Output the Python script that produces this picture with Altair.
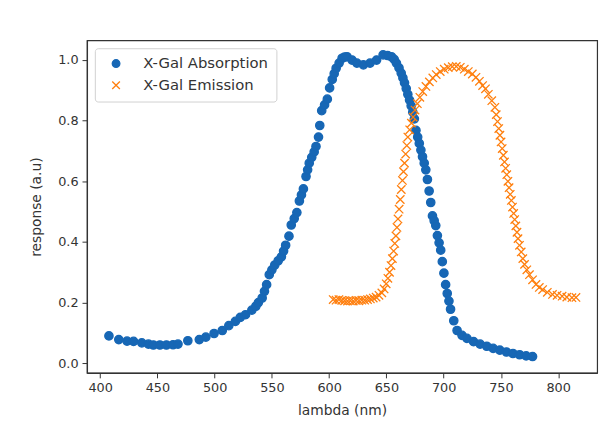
import altair as alt
import pandas as pd

abs_nm = [407.7, 416.3, 423.5, 429.2, 436.4, 442.2, 446.5, 452.2, 457.9, 463.7, 468.0,
          476.6, 486.6, 492.3, 499.5, 506.7, 512.4, 518.1, 522.4, 527.0, 532.5, 536.0,
          538.2, 541.5, 543.5, 545.4, 547.7, 550.0, 552.5, 555.5, 558.3, 560.2, 562.0,
          564.9, 566.9, 569.5, 571.8, 574.0, 575.8, 577.5, 579.8, 581.2, 582.6, 584.8,
          586.9, 588.5, 590.7, 591.8, 593.5, 596.0, 598.4, 600.4, 602.7, 604.4, 606.1,
          608.7, 611.3, 613.5, 615.6, 620.0, 624.2, 629.9, 635.7, 641.4, 647.1, 651.0,
          654.4, 656.8, 658.7, 661.0, 662.9, 664.4, 665.8, 667.3, 668.7, 670.2, 671.6,
          673.0, 674.4, 675.8, 677.3, 678.7, 680.1, 681.5, 683.0, 684.4, 685.8, 687.3,
          688.7, 690.2, 691.7, 693.1, 694.5, 696.0, 697.4, 698.8, 700.2, 701.7, 703.1,
          704.6, 706.0, 708.8, 711.7, 716.0, 720.3, 726.1, 731.8, 737.6, 743.2, 749.0,
          754.8, 760.5, 766.3, 772.0, 777.6]
abs_val = [0.090, 0.078, 0.073, 0.072, 0.067, 0.063, 0.060, 0.060, 0.060, 0.061, 0.063,
           0.074, 0.078, 0.086, 0.098, 0.108, 0.124, 0.138, 0.151, 0.160, 0.175, 0.188,
           0.200, 0.215, 0.237, 0.259, 0.292, 0.308, 0.324, 0.338, 0.351, 0.370, 0.389,
           0.419, 0.456, 0.477, 0.497, 0.535, 0.555, 0.575, 0.616, 0.638, 0.660, 0.679,
           0.697, 0.715, 0.746, 0.784, 0.833, 0.852, 0.871, 0.908, 0.936, 0.955, 0.973,
           0.990, 1.006, 1.010, 1.011, 1.000, 0.990, 0.984, 0.990, 1.000, 1.017, 1.015,
           1.011, 1.002, 0.990, 0.974, 0.957, 0.941, 0.925, 0.906, 0.887, 0.868, 0.849,
           0.828, 0.806, 0.768, 0.746, 0.725, 0.703, 0.681, 0.660, 0.638, 0.606, 0.568,
           0.530, 0.486, 0.470, 0.454, 0.421, 0.397, 0.373, 0.335, 0.297, 0.259, 0.230,
           0.205, 0.178, 0.140, 0.108, 0.092, 0.082, 0.071, 0.063, 0.056, 0.049, 0.043,
           0.037, 0.032, 0.028, 0.024, 0.022]

em_nm = [603.5, 606.0, 608.5, 611.0, 613.5, 616.0, 618.5, 621.0, 623.5, 626.0, 628.5,
         631.0, 633.5, 636.0, 638.5, 641.0, 643.5, 646.0, 648.0, 649.8, 651.3, 652.7,
         654.0, 655.2, 656.3, 657.3, 658.3, 659.2, 660.1, 661.1, 662.1, 663.0, 664.0,
         664.9, 665.8, 666.8, 667.8, 668.7, 670.3, 671.8, 673.3, 675.0, 677.0, 679.2,
         681.7, 684.5, 687.5, 690.5, 693.5, 697.0, 700.5, 704.0, 707.5, 711.0, 714.5,
         718.0, 721.5, 725.0, 728.2, 731.2, 734.0, 736.5, 739.0, 742.0, 744.7, 745.9,
         747.0, 748.1, 749.1, 750.1, 751.1, 752.1, 753.1, 754.1, 755.1, 756.1, 757.1,
         758.1, 759.1, 760.1, 761.1, 762.0, 763.0, 764.0, 764.9, 766.2, 767.7, 769.1,
         770.6, 772.6, 774.9, 777.6, 780.6, 783.5, 786.4, 790.5, 795.0, 799.0, 803.4,
         807.5, 812.0, 815.5]
em_val = [0.210, 0.208, 0.210, 0.207, 0.206, 0.205, 0.206, 0.205, 0.207, 0.206, 0.208,
          0.208, 0.210, 0.212, 0.215, 0.218, 0.224, 0.232, 0.245, 0.262, 0.280, 0.300,
          0.322, 0.345, 0.370, 0.395, 0.420, 0.448, 0.476, 0.508, 0.540, 0.573, 0.603,
          0.632, 0.660, 0.690, 0.718, 0.746, 0.770, 0.792, 0.812, 0.835, 0.856, 0.877,
          0.896, 0.913, 0.928, 0.941, 0.952, 0.962, 0.970, 0.975, 0.978, 0.979, 0.976,
          0.970, 0.962, 0.954, 0.943, 0.930, 0.916, 0.905, 0.887, 0.866, 0.844, 0.820,
          0.797, 0.774, 0.752, 0.730, 0.708, 0.686, 0.664, 0.643, 0.622, 0.600, 0.579,
          0.557, 0.537, 0.515, 0.494, 0.474, 0.453, 0.432, 0.411, 0.389, 0.367, 0.345,
          0.326, 0.308, 0.292, 0.275, 0.260, 0.250, 0.243, 0.234, 0.227, 0.224, 0.221,
          0.218, 0.216, 0.217]

series_names = ["X-Gal Absorption", "X-Gal Emission"]
colors = ["#1767b5", "#ff7f0e"]
shapes = ["circle", "M-1,-1L1,1M-1,1L1,-1"]
x_ticks = [400, 450, 500, 550, 600, 650, 700, 750, 800]
y_ticks = [0.0, 0.2, 0.4, 0.6, 0.8, 1.0]

df = pd.concat([
    pd.DataFrame({"nm": abs_nm, "v": abs_val, "series": series_names[0]}),
    pd.DataFrame({"nm": em_nm, "v": em_val, "series": series_names[1]}),
])

FONT = "DejaVu Sans"
sc = alt.Scale(domain=series_names, range=colors)

chart = alt.Chart(df).mark_point(size=72, strokeWidth=1.3, opacity=1).encode(
    x=alt.X("nm:Q", title="lambda (nm)",
            scale=alt.Scale(domain=[388.5, 834], nice=False, zero=False),
            axis=alt.Axis(values=x_ticks, format="d", grid=False, titlePadding=9)),
    y=alt.Y("v:Q", title="response (a.u)",
            scale=alt.Scale(domain=[-0.032, 1.065], nice=False, zero=False),
            axis=alt.Axis(values=y_ticks, format=".1f", grid=False, titlePadding=14)),
    fill=alt.Fill("series:N", scale=sc, legend=alt.Legend(title=None)),
    stroke=alt.Stroke("series:N", scale=sc, legend=alt.Legend(title=None)),
    shape=alt.Shape("series:N", scale=alt.Scale(domain=series_names, range=shapes),
                    legend=alt.Legend(title=None)),
).properties(
    width=517, height=337,
    autosize=alt.AutoSizeParams(type="none"),
    padding={"left": 80, "top": 30, "right": 11, "bottom": 50},
).configure_view(
    stroke="#333333", strokeWidth=1.2
).configure_axis(
    labelFont=FONT, titleFont=FONT, labelFontSize=13, titleFontSize=14,
    labelColor="#333333", titleColor="#333333", titleFontWeight="normal",
    domainColor="#333333", tickColor="#333333", tickSize=5, labelPadding=4,
    domainWidth=1.2,
).configure_legend(
    orient="top-left", offset=8, padding=8, labelFont=FONT, labelFontSize=15,
    labelColor="#333333", strokeColor="#d0d0d0", fillColor="white", cornerRadius=3,
    symbolSize=60, symbolStrokeWidth=1.3, symbolOffset=6, labelOffset=20, rowPadding=6,
)

chart.save("out.html", embed_options={"renderer": "svg", "actions": False})
